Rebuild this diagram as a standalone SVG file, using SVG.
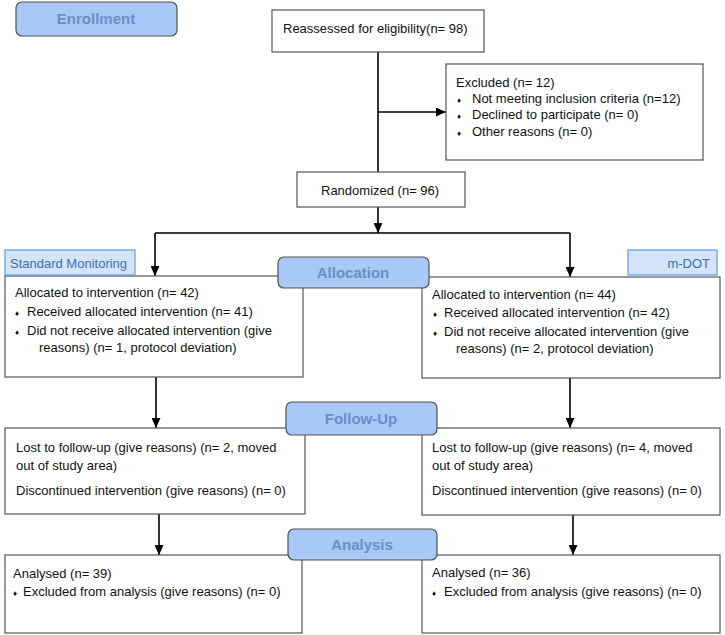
<svg xmlns="http://www.w3.org/2000/svg" width="725" height="635" viewBox="0 0 725 635">
<defs>
<marker id="arr" markerUnits="userSpaceOnUse" markerWidth="10" markerHeight="9" refX="10" refY="4.5" orient="auto">
<path d="M0,0 L10,4.5 L0,9 z" fill="#000"/>
</marker>
<style>
.box{fill:#fff;stroke:#555;stroke-width:1.2}
.hdr{fill:#a8c8f8;stroke:#505050;stroke-width:1.2}
.arm{fill:#d4e4fb;stroke:#5b9bf0;stroke-width:1.2}
.t{font-family:"Liberation Sans",Arial,sans-serif;font-size:13px;fill:#111}
.h{font-family:"Liberation Sans",Arial,sans-serif;font-size:15px;font-weight:bold;fill:#6b8fc3;text-anchor:middle}
.a{font-family:"Liberation Sans",Arial,sans-serif;font-size:13px;fill:#3d6db0}
.b{font-size:8px}
.c{stroke:#000;stroke-width:1.6;fill:none}
</style>
</defs>
<rect width="725" height="635" fill="#fff"/>
<g id="connectors">
<line class="c" x1="378" y1="52" x2="378" y2="172"/>
<line class="c" x1="378" y1="112" x2="446" y2="112" marker-end="url(#arr)"/>
<line class="c" x1="378" y1="207" x2="378" y2="233" marker-end="url(#arr)"/>
<line class="c" x1="155" y1="233" x2="570" y2="233"/>
<line class="c" x1="155" y1="233" x2="155" y2="276" marker-end="url(#arr)"/>
<line class="c" x1="570" y1="233" x2="570" y2="277" marker-end="url(#arr)"/>
<line class="c" x1="156" y1="377" x2="156" y2="428" marker-end="url(#arr)"/>
<line class="c" x1="570" y1="378" x2="570" y2="428" marker-end="url(#arr)"/>
<line class="c" x1="159" y1="514" x2="159" y2="555" marker-end="url(#arr)"/>
<line class="c" x1="573" y1="515" x2="573" y2="555" marker-end="url(#arr)"/>
</g>
<g id="reassessed">
<rect class="box" x="272" y="10" width="212" height="42"/>
<text class="t" x="283" y="33">Reassessed for eligibility(n= 98)</text>
</g>
<g id="excluded">
<rect class="box" x="446" y="64" width="257" height="96"/>
<text class="t" x="456" y="87">Excluded (n= 12)</text>
<text class="t" x="457" y="103"><tspan class="b">♦</tspan><tspan x="472">Not meeting inclusion criteria (n=12)</tspan></text>
<text class="t" x="457" y="119"><tspan class="b">♦</tspan><tspan x="472">Declined to participate (n= 0)</tspan></text>
<text class="t" x="457" y="136"><tspan class="b">♦</tspan><tspan x="472">Other reasons (n= 0)</tspan></text>
</g>
<g id="randomized">
<rect class="box" x="297" y="172" width="168" height="35"/>
<text class="t" x="321" y="195">Randomized (n= 96)</text>
</g>
<g id="alloc-left">
<rect class="box" x="5" y="276" width="298" height="101"/>
<text class="t" x="15" y="297">Allocated to intervention (n= 42)</text>
<text class="t" x="15" y="316"><tspan class="b">♦</tspan><tspan x="27">Received allocated intervention (n= 41)</tspan></text>
<text class="t" x="15" y="335"><tspan class="b">♦</tspan><tspan x="27">Did not receive allocated intervention (give</tspan></text>
<text class="t" x="39" y="352">reasons) (n= 1, protocol deviation)</text>
</g>
<g id="alloc-right">
<rect class="box" x="422" y="277" width="298" height="101"/>
<text class="t" x="432" y="299">Allocated to intervention (n= 44)</text>
<text class="t" x="433" y="317"><tspan class="b">♦</tspan><tspan x="444">Received allocated intervention (n= 42)</tspan></text>
<text class="t" x="433" y="336"><tspan class="b">♦</tspan><tspan x="444">Did not receive allocated intervention (give</tspan></text>
<text class="t" x="456" y="353">reasons) (n= 2, protocol deviation)</text>
</g>
<g id="followup-left">
<rect class="box" x="5" y="428" width="300" height="86"/>
<text class="t" x="16" y="452">Lost to follow-up (give reasons) (n= 2, moved</text>
<text class="t" x="16" y="470">out of study area)</text>
<text class="t" x="16" y="495">Discontinued intervention (give reasons) (n= 0)</text>
</g>
<g id="followup-right">
<rect class="box" x="422" y="428" width="298" height="87"/>
<text class="t" x="432" y="452">Lost to follow-up (give reasons) (n= 4, moved</text>
<text class="t" x="432" y="470">out of study area)</text>
<text class="t" x="432" y="495">Discontinued intervention (give reasons) (n= 0)</text>
</g>
<g id="analysis-left">
<rect class="box" x="5" y="555" width="297" height="78"/>
<text class="t" x="13" y="578">Analysed (n= 39)</text>
<text class="t" x="13" y="596"><tspan class="b">♦</tspan><tspan x="23">Excluded from analysis (give reasons) (n= 0)</tspan></text>
</g>
<g id="analysis-right">
<rect class="box" x="422" y="555" width="298" height="78"/>
<text class="t" x="432" y="577">Analysed (n= 36)</text>
<text class="t" x="432" y="596"><tspan class="b">♦</tspan><tspan x="444">Excluded from analysis (give reasons) (n= 0)</tspan></text>
</g>
<g id="standard-monitoring">
<rect class="arm" x="5" y="250" width="130" height="25"/>
<text class="a" x="10" y="268">Standard Monitoring</text>
</g>
<g id="m-dot">
<rect class="arm" x="628" y="250" width="89" height="25"/>
<text class="a" x="710" y="268" text-anchor="end">m-DOT</text>
</g>
<g id="enrollment">
<rect class="hdr" x="16" y="2" width="161" height="34" rx="6"/>
<text class="h" x="96" y="24">Enrollment</text>
</g>
<g id="allocation">
<rect class="hdr" x="278" y="257" width="151" height="31" rx="6"/>
<text class="h" x="353" y="278">Allocation</text>
</g>
<g id="follow-up">
<rect class="hdr" x="286" y="402" width="151" height="33" rx="6"/>
<text class="h" x="361" y="424">Follow-Up</text>
</g>
<g id="analysis">
<rect class="hdr" x="288" y="529" width="149" height="31" rx="6"/>
<text class="h" x="362" y="550">Analysis</text>
</g>
</svg>
